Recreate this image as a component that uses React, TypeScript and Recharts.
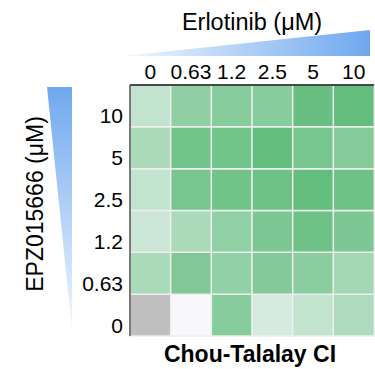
import { Bar, BarChart, Cell, XAxis, YAxis } from "recharts";

// doses, low -> high
const erlotinibDoses = ["0", "0.63", "1.2", "2.5", "5", "10"];
const epzDoses = ["0", "0.63", "1.2", "2.5", "5", "10"];

// Chou-Talalay combination index, one array per EPZ015666 dose (columns = erlotinib doses)
const ciEpz0 = [null, 1.0, 0.5, 0.85, 0.76, 0.67];
const ciEpz063 = [0.66, 0.47, 0.55, 0.48, 0.52, 0.63];
const ciEpz12 = [0.8, 0.66, 0.55, 0.45, 0.39, 0.45];
const ciEpz25 = [0.76, 0.43, 0.4, 0.39, 0.34, 0.39];
const ciEpz5 = [0.66, 0.41, 0.41, 0.34, 0.43, 0.49];
const ciEpz10 = [0.76, 0.54, 0.5, 0.5, 0.36, 0.34];

const ciRows: (number | null)[][] = [ciEpz0, ciEpz063, ciEpz12, ciEpz25, ciEpz5, ciEpz10];

const LIGHT = [248, 248, 252];
const DARK = [90, 186, 118];

function ciColor(ci: number | null) {
  if (ci == null) return "#bfbfbf";
  const t = Math.max(0, Math.min(1, (1 - ci) / 0.7));
  const c = LIGHT.map((l, i) => Math.round(l + (DARK[i] - l) * t));
  return `rgb(${c[0]},${c[1]},${c[2]})`;
}

// one stacked column per erlotinib dose, one unit-high segment per EPZ dose
const data = erlotinibDoses.map((erl) => {
  const d: Record<string, string | number> = { erl };
  epzDoses.forEach((_, r) => {
    d[`r${r}`] = 1;
  });
  return d;
});

const yTicks = epzDoses.map((_, i) => i + 0.5);
const font = "'Liberation Sans', Arial, sans-serif";

export default function App() {
  return (
    <div style={{ position: "absolute", left: 0, top: 0, width: 375, height: 369, fontFamily: font }}>
      <BarChart
        width={375}
        height={369}
        data={data}
        margin={{ top: 55, right: 1, bottom: 33, left: 70 }}
        barCategoryGap={0}
        barGap={0}
      >
        <XAxis
          xAxisId="top"
          orientation="top"
          dataKey="erl"
          height={30}
          tickLine={false}
          tickSize={0}
          tickMargin={6}
          axisLine={{ stroke: "#111", strokeWidth: 1.5 }}
          tick={{ fontSize: 21, fill: "#000" }}
          interval={0}
        />
        <XAxis
          xAxisId="bottom"
          orientation="bottom"
          dataKey="erl"
          height={0}
          tick={false}
          tickLine={false}
          axisLine={{ stroke: "#999", strokeWidth: 1.5 }}
        />
        <YAxis
          yAxisId="left"
          type="number"
          domain={[0, 6]}
          ticks={yTicks}
          width={60}
          tickLine={false}
          tickSize={0}
          tickMargin={7}
          tickFormatter={(v: number) => epzDoses[Math.floor(v)]}
          axisLine={{ stroke: "#555", strokeWidth: 1.5 }}
          tick={{ fontSize: 21, fill: "#000", dy: 10 }}
          interval={0}
        />
        <YAxis
          yAxisId="right"
          orientation="right"
          type="number"
          domain={[0, 6]}
          width={0}
          tick={false}
          tickLine={false}
          axisLine={{ stroke: "#111", strokeWidth: 1.5 }}
        />
        {epzDoses.map((dose, r) => (
          <Bar
            key={dose}
            dataKey={`r${r}`}
            stackId="grid"
            xAxisId="top"
            yAxisId="left"
            stroke="#eeeeee"
            strokeWidth={1.5}
            isAnimationActive={false}
          >
            {ciRows[r].map((ci, c) => (
              <Cell key={c} fill={ciColor(ci)} />
            ))}
          </Bar>
        ))}
      </BarChart>
      <svg
        width={375}
        height={369}
        style={{ position: "absolute", left: 0, top: 0, pointerEvents: "none", fontFamily: font }}
      >
        <defs>
          <linearGradient id="wedgeTop" x1="0" y1="0" x2="1" y2="0">
            <stop offset="0" stopColor="#f2f7fe" />
            <stop offset="1" stopColor="#6fa8ef" />
          </linearGradient>
          <linearGradient id="wedgeLeft" x1="0" y1="0" x2="0" y2="1">
            <stop offset="0" stopColor="#6fa8ef" />
            <stop offset="1" stopColor="#f2f7fe" />
          </linearGradient>
        </defs>
        <polygon points="123,56 370,30 370,56" fill="url(#wedgeTop)" />
        <polygon points="47,87 72,87 72,330" fill="url(#wedgeLeft)" />
        <text x={252} y={30} textAnchor="middle" fontSize={23.5} fill="#000">
          Erlotinib (μM)
        </text>
        <text
          x={0}
          y={0}
          transform="translate(43,204) rotate(-90)"
          textAnchor="middle"
          fontSize={23}
          fill="#000"
        >
          EPZ015666 (μM)
        </text>
        <text x={250} y={362} textAnchor="middle" fontSize={23} fontWeight="bold" fill="#000">
          Chou-Talalay CI
        </text>
      </svg>
    </div>
  );
}
